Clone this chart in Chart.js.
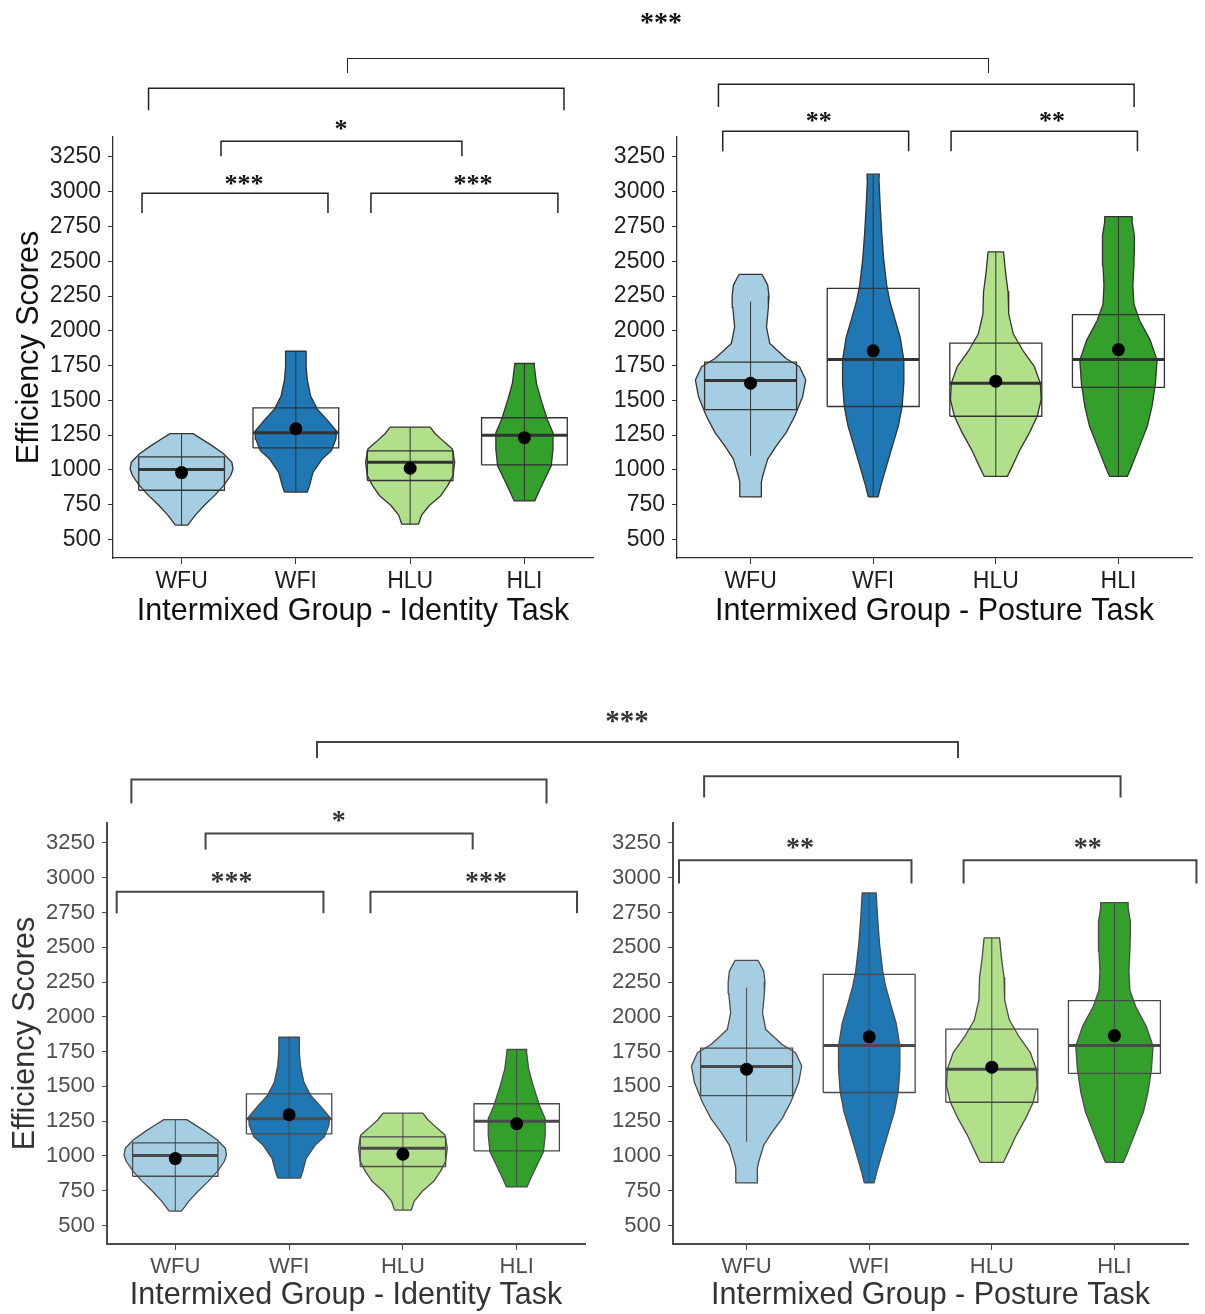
<!DOCTYPE html>
<html>
<head>
<meta charset="utf-8">
<script src="https://cdn.jsdelivr.net/npm/chart.js@4.4.0/dist/chart.umd.min.js"></script>
<style>
  body { margin: 0; background: #fff; width: 1205px; height: 1314px; position: relative; overflow: hidden; }
  canvas { position: absolute; }
  .soft { filter: blur(0.6px); }
  .cross { position: absolute; box-sizing: border-box; border-bottom: none !important; }
  .stars { position: absolute; font-family: "Liberation Serif", serif; font-weight: bold; transform: translate(-50%, -50%); line-height: 1; }
</style>
</head>
<body>
<canvas id="idTop" width="600" height="650" style="left:0;top:0"></canvas>
<canvas id="poTop" width="605" height="650" style="left:600px;top:0"></canvas>
<canvas id="idBot" class="soft" width="600" height="624" style="left:0;top:690px"></canvas>
<canvas id="poBot" class="soft" width="605" height="624" style="left:600px;top:690px"></canvas>

<div class="cross" style="left:347px;top:58px;width:642px;height:15px;border:1.5px solid #222"></div>
<div class="stars" style="left:661px;top:22px;font-size:28px;color:#111">***</div>
<div class="cross soft" style="left:316px;top:741px;width:643px;height:17px;border:2px solid #444"></div>
<div class="stars soft" style="left:627px;top:720px;font-size:29px;color:#333">***</div>

<script>
const categories = ["WFU", "WFI", "HLU", "HLI"];
const groupColors = ["#a6cee3", "#1f78b4", "#b2df8a", "#33a02c"];
const yTicks = [500, 750, 1000, 1250, 1500, 1750, 2000, 2250, 2500, 2750, 3000, 3250];

// Identity task: violin outlines (score, half width in category units)
const identityViolinY = [
  [604, 675, 746, 817, 889, 960, 1007, 1055, 1114, 1173, 1220, 1261],
  [841, 889, 983, 1078, 1137, 1220, 1280, 1363, 1434, 1529, 1647, 1742, 1853],
  [611, 675, 746, 817, 889, 960, 1055, 1150, 1200, 1260, 1308],
  [777, 841, 936, 1031, 1150, 1268, 1363, 1505, 1624, 1742, 1765]
];
const identityViolinW = [
  [0.054, 0.12, 0.2, 0.29, 0.37, 0.43, 0.45, 0.44, 0.37, 0.27, 0.18, 0.1],
  [0.1, 0.12, 0.15, 0.23, 0.31, 0.35, 0.355, 0.27, 0.19, 0.13, 0.1, 0.09, 0.09],
  [0.074, 0.1, 0.17, 0.27, 0.33, 0.375, 0.39, 0.37, 0.3, 0.22, 0.175],
  [0.09, 0.125, 0.18, 0.235, 0.25, 0.25, 0.2, 0.145, 0.105, 0.087, 0.085]
];
const identityQ1 = [854, 1159, 924, 1036];
const identityMedian = [1003, 1268, 1055, 1249];
const identityQ3 = [1094, 1446, 1137, 1375];
const identityMean = [981, 1296, 1012, 1232];
const identityWhiskerLow = [604, 841, 611, 777];
const identityWhiskerHigh = [1261, 1853, 1308, 1765];

// Posture task
const postureViolinY = [
  [806, 912, 960, 1078, 1173, 1268, 1386, 1528, 1647, 1742, 1801, 1908, 2026, 2168, 2250, 2328, 2405],
  [806, 889, 1031, 1173, 1315, 1457, 1623, 1789, 1955, 2097, 2216, 2328, 2519, 2709, 2900, 3090, 3126],
  [953, 1031, 1150, 1268, 1386, 1505, 1623, 1742, 1860, 1979, 2121, 2281, 2424, 2567],
  [953, 1031, 1173, 1315, 1457, 1623, 1789, 1931, 2074, 2192, 2328, 2471, 2590, 2685, 2781, 2821]
];
const postureViolinW = [
  [0.088, 0.088, 0.1, 0.14, 0.21, 0.29, 0.36, 0.425, 0.45, 0.4, 0.29, 0.157, 0.13, 0.145, 0.15, 0.14, 0.094],
  [0.04, 0.063, 0.11, 0.157, 0.205, 0.236, 0.25, 0.25, 0.22, 0.173, 0.135, 0.11, 0.085, 0.069, 0.057, 0.047, 0.05],
  [0.094, 0.137, 0.2, 0.275, 0.338, 0.37, 0.363, 0.315, 0.22, 0.142, 0.105, 0.1, 0.079, 0.063],
  [0.072, 0.11, 0.173, 0.236, 0.274, 0.302, 0.315, 0.26, 0.173, 0.126, 0.118, 0.126, 0.13, 0.13, 0.112, 0.112]
];
// lower copy: WFI violin cut at 2890
const postureWfiCutY = [806, 889, 1031, 1173, 1315, 1457, 1623, 1789, 1955, 2097, 2216, 2328, 2519, 2709, 2890];
const postureWfiCutW = [0.04, 0.063, 0.11, 0.157, 0.205, 0.236, 0.25, 0.25, 0.22, 0.173, 0.135, 0.11, 0.085, 0.069, 0.057];
const postureQ1 = [1434, 1456, 1386, 1593];
const postureMedian = [1642, 1794, 1623, 1794];
const postureQ3 = [1775, 2305, 1912, 2116];
const postureMean = [1623, 1856, 1638, 1865];
const postureWhiskerLow = [1102, 806, 953, 953];
const postureWhiskerHigh = [2210, 3126, 2567, 2821];
const postureWhiskerHighCut = [2210, 2890, 2567, 2821];

// significance brackets: x in category units, y in score units
const identityBracketsTop = [
  { from: 0.654, to: 2.281, y: 2989, leg: 2846, label: "***", lx: 1.546, ly: 3075 },
  { from: 2.657, to: 4.293, y: 2989, leg: 2846, label: "***", lx: 3.55, ly: 3075 },
  { from: 1.345, to: 3.453, y: 3363, leg: 3255, label: "*", lx: 2.395, ly: 3471 },
  { from: 0.711, to: 4.346, y: 3744, leg: 3586 }
];
const postureBracketsTop = [
  { from: 0.738, to: 4.128, y: 3773, leg: 3608 },
  { from: 0.773, to: 2.289, y: 3435, leg: 3291, label: "**", lx: 1.556, ly: 3529 },
  { from: 2.635, to: 4.155, y: 3435, leg: 3291, label: "**", lx: 3.459, ly: 3529 }
];
const identityBracketsBot = [
  { from: 0.485, to: 2.302, y: 2898, leg: 2745, label: "***", lx: 1.494, ly: 2996 },
  { from: 2.715, to: 4.53, y: 2898, leg: 2745, label: "***", lx: 3.73, ly: 2996 },
  { from: 1.266, to: 3.613, y: 3318, leg: 3203, label: "*", lx: 2.436, ly: 3437 },
  { from: 0.614, to: 4.262, y: 3706, leg: 3533 }
];
const postureBracketsBot = [
  { from: 0.654, to: 4.05, y: 3729, leg: 3576 },
  { from: 0.449, to: 2.345, y: 3126, leg: 2958, label: "**", lx: 1.435, ly: 3241 },
  { from: 2.77, to: 4.669, y: 3126, leg: 2958, label: "**", lx: 3.782, ly: 3241 }
];

const BOX_HALF = 0.375;

function violinPath(c, ys, ws) {
  const pts = [];
  for (let i = 0; i < ys.length; i++) pts.push({ x: c - ws[i], y: ys[i] });
  for (let i = ys.length - 1; i >= 0; i--) pts.push({ x: c + ws[i], y: ys[i] });
  pts.push(pts[0]);
  return pts;
}

function boxPath(c, lo, hi) {
  return [
    { x: c - BOX_HALF, y: lo }, { x: c + BOX_HALF, y: lo },
    { x: c + BOX_HALF, y: hi }, { x: c - BOX_HALF, y: hi }, { x: c - BOX_HALF, y: lo }
  ];
}

function bracketPlugin(items, color, width, textColor, fontSize) {
  return {
    id: "brackets",
    afterDraw(chart) {
      const { ctx } = chart;
      const { x, y } = chart.scales;
      ctx.save();
      ctx.strokeStyle = color;
      ctx.lineWidth = width;
      ctx.fillStyle = textColor;
      ctx.font = 'bold ' + fontSize + 'px "Liberation Serif"';
      ctx.textAlign = "center";
      ctx.textBaseline = "middle";
      for (const b of items) {
        const x1 = x.getPixelForValue(b.from);
        const x2 = x.getPixelForValue(b.to);
        const yb = y.getPixelForValue(b.y);
        const yl = y.getPixelForValue(b.leg);
        ctx.beginPath();
        ctx.moveTo(x1, yl);
        ctx.lineTo(x1, yb);
        ctx.lineTo(x2, yb);
        ctx.lineTo(x2, yl);
        ctx.stroke();
        if (b.label) {
          ctx.fillText(b.label, x.getPixelForValue(b.lx), y.getPixelForValue(b.ly) + fontSize * 0.16);
        }
      }
      ctx.restore();
    }
  };
}

function makePanel(id, p) {
  const datasets = [];
  for (let i = 0; i < 4; i++) {
    const c = i + 1;
    datasets.push({
      data: violinPath(c, p.vy[i], p.vw[i]), showLine: true, fill: "shape",
      backgroundColor: groupColors[i], borderColor: p.line, borderWidth: 1.3,
      borderJoinStyle: "round", pointRadius: 0, tension: 0, order: 5
    });
    datasets.push({
      data: [{ x: c, y: p.lo[i] }, { x: c, y: p.hi[i] }], showLine: true,
      borderColor: p.line, borderWidth: 1, pointRadius: 0, order: 4
    });
    datasets.push({
      data: boxPath(c, p.q1[i], p.q3[i]), showLine: true, fill: false,
      borderColor: p.line, borderWidth: 1.3, pointRadius: 0, order: 3
    });
    datasets.push({
      data: [{ x: c - BOX_HALF, y: p.med[i] }, { x: c + BOX_HALF, y: p.med[i] }], showLine: true,
      borderColor: p.line, borderWidth: 3, pointRadius: 0, order: 2
    });
  }
  datasets.push({
    data: p.mean.map((m, i) => ({ x: i + 1, y: m })), showLine: false,
    pointRadius: 6.5, pointBackgroundColor: "#000", pointBorderWidth: 0, order: 1
  });

  const tickFont = { family: "Liberation Sans", size: p.tickSize };
  const titleFont = { family: "Liberation Sans", size: 30.5 };

  new Chart(document.getElementById(id), {
    type: "scatter",
    data: { datasets },
    options: {
      responsive: false,
      maintainAspectRatio: false,
      devicePixelRatio: 1,
      animation: false,
      events: [],
      layout: { padding: { left: 0, top: p.top, right: p.right, bottom: 0 } },
      plugins: { legend: { display: false }, tooltip: { enabled: false } },
      scales: {
        x: {
          type: "linear", min: 0.4, max: 4.6,
          afterBuildTicks: (s) => { s.ticks = categories.map((_, i) => ({ value: i + 1 })); },
          afterFit: (s) => { s.height = p.xHeight; },
          ticks: { callback: (v) => categories[v - 1], font: tickFont, color: p.text, padding: 4, autoSkip: false, maxRotation: 0 },
          grid: { display: true, drawOnChartArea: false, drawTicks: true, tickLength: 6, color: p.line },
          border: { display: true, color: p.line, width: p.axisWidth },
          title: { display: true, text: p.xTitle, font: titleFont, color: p.title, padding: { top: 0, bottom: p.xTitlePad } }
        },
        y: {
          type: "linear", min: 367, max: 3393,
          afterBuildTicks: (s) => { s.ticks = yTicks.map((v) => ({ value: v })); },
          afterFit: (s) => { s.width = p.yWidth; },
          ticks: { callback: (v) => String(v), font: tickFont, color: p.text, padding: 7 },
          grid: { display: true, drawOnChartArea: false, drawTicks: true, tickLength: 5, color: p.line },
          border: { display: true, color: p.line, width: p.axisWidth },
          title: { display: !!p.yTitle, text: p.yTitle, font: titleFont, color: p.title, padding: { top: p.yTitlePad, bottom: 0 } }
        }
      }
    },
    plugins: [bracketPlugin(p.brackets, p.bracketColor, p.bracketWidth, p.title, p.starSize)]
  });
}

const topStyle = { line: "#333", text: "#1e1e1e", title: "#111", axisWidth: 1.3, bracketColor: "#222", bracketWidth: 1.5, starSize: 26, tickSize: 23, top: 137, xHeight: 92, xTitlePad: 20 };
const botStyle = { line: "#4a4a4a", text: "#4d4d4d", title: "#333", axisWidth: 2, bracketColor: "#444", bracketWidth: 2, starSize: 28, tickSize: 22, top: 133, xHeight: 70, xTitlePad: 0 };

makePanel("idTop", Object.assign({}, topStyle, {
  right: 7, yWidth: 113, yTitle: "Efficiency Scores", yTitlePad: 11, xTitle: "Intermixed Group - Identity Task",
  vy: identityViolinY, vw: identityViolinW, q1: identityQ1, med: identityMedian, q3: identityQ3,
  mean: identityMean, lo: identityWhiskerLow, hi: identityWhiskerHigh, brackets: identityBracketsTop
}));
makePanel("poTop", Object.assign({}, topStyle, {
  right: 13, yWidth: 77, yTitle: "", yTitlePad: 0, xTitle: "Intermixed Group - Posture Task",
  vy: postureViolinY, vw: postureViolinW, q1: postureQ1, med: postureMedian, q3: postureQ3,
  mean: postureMean, lo: postureWhiskerLow, hi: postureWhiskerHigh, brackets: postureBracketsTop
}));
makePanel("idBot", Object.assign({}, botStyle, {
  right: 15, yWidth: 107, yTitle: "Efficiency Scores", yTitlePad: 7, xTitle: "Intermixed Group - Identity Task",
  vy: identityViolinY, vw: identityViolinW, q1: identityQ1, med: identityMedian, q3: identityQ3,
  mean: identityMean, lo: identityWhiskerLow, hi: identityWhiskerHigh, brackets: identityBracketsBot
}));
makePanel("poBot", Object.assign({}, botStyle, {
  right: 17, yWidth: 73, yTitle: "", yTitlePad: 0, xTitle: "Intermixed Group - Posture Task",
  vy: [postureViolinY[0], postureWfiCutY, postureViolinY[2], postureViolinY[3]],
  vw: [postureViolinW[0], postureWfiCutW, postureViolinW[2], postureViolinW[3]],
  q1: postureQ1, med: postureMedian, q3: postureQ3,
  mean: postureMean, lo: postureWhiskerLow, hi: postureWhiskerHighCut, brackets: postureBracketsBot
}));
</script>
</body>
</html>
